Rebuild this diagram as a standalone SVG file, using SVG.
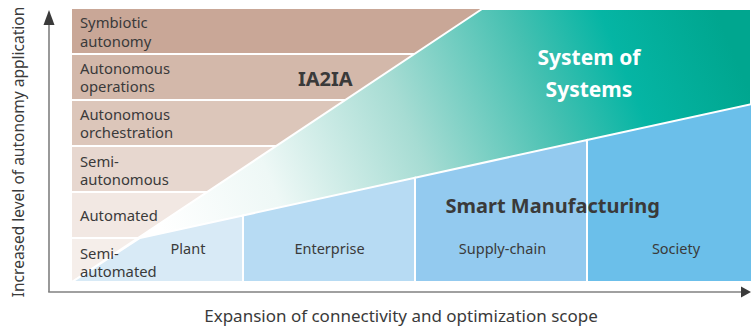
<svg xmlns="http://www.w3.org/2000/svg" width="751" height="326" viewBox="0 0 751 326">
<style>
.lbl{font-family:"Noto Sans","Liberation Sans",sans-serif;font-size:14.8px;fill:#3a3a3a}
.col{font-family:"Noto Sans","Liberation Sans",sans-serif;font-size:14.5px;fill:#3a3a3a;text-anchor:middle}
.big{font-family:"Noto Sans","Liberation Sans",sans-serif;font-weight:bold;font-size:20px;fill:#3a3a3a}
.wht{font-family:"Noto Sans","Liberation Sans",sans-serif;font-weight:bold;font-size:21px;fill:#ffffff;text-anchor:middle}
.ax{font-family:"Noto Sans","Liberation Sans",sans-serif;font-size:15.5px;fill:#3a3a3a;text-anchor:middle}
.axx{font-family:"Noto Sans","Liberation Sans",sans-serif;font-size:17px;fill:#3a3a3a;text-anchor:middle}
.axl{stroke:#808080;stroke-width:1.6;fill:none}
.blue{stroke:#ffffff;stroke-width:2}
</style>
<defs>
<linearGradient id="teal" gradientUnits="userSpaceOnUse" x1="170" y1="250" x2="720" y2="20">
<stop offset="0" stop-color="#ffffff"/>
<stop offset="0.2" stop-color="#eef8f6"/>
<stop offset="0.45" stop-color="#a6dcd3"/>
<stop offset="0.68" stop-color="#45c0b1"/>
<stop offset="0.82" stop-color="#05b5a4"/>
<stop offset="1" stop-color="#00a68f"/>
</linearGradient>
</defs>

<g id="levels">
<g id="row-symbiotic"><rect x="72" y="9" width="412" height="44" fill="#c9a797"/><text class="lbl" x="80" y="27.5">Symbiotic</text><text class="lbl" x="80" y="46.5">autonomy</text></g>
<g id="row-operations"><rect x="72" y="55" width="412" height="44" fill="#d3b8aa"/><text class="lbl" x="80" y="73.5">Autonomous</text><text class="lbl" x="80" y="91.5">operations</text></g>
<g id="row-orchestration"><rect x="72" y="101" width="412" height="44" fill="#dcc6ba"/><text class="lbl" x="80" y="119.5">Autonomous</text><text class="lbl" x="80" y="137.5">orchestration</text></g>
<g id="row-semiautonomous"><rect x="72" y="147" width="412" height="44" fill="#e7d7cf"/><text class="lbl" x="80" y="166.5">Semi-</text><text class="lbl" x="80" y="185">autonomous</text></g>
<g id="row-automated"><rect x="72" y="193" width="412" height="44" fill="#f2e8e3"/><text class="lbl" x="80" y="221">Automated</text></g>
<g id="row-semiautomated"><rect x="72" y="239" width="412" height="43" fill="#f5eeea"/></g>
</g>

<g id="system-of-systems">
<polygon points="72,282 482,9 751,9 751,282" fill="url(#teal)" stroke="#ffffff" stroke-width="2" stroke-linejoin="round"/>
<text class="wht" x="589" y="65">System of</text>
<text class="wht" x="589" y="96.5">Systems</text>
</g>

<g id="ia2ia"><text class="big" x="298" y="85.5">IA2IA</text></g>

<g id="smart-manufacturing">
<g id="col-plant"><polygon class="blue" points="72,282 140,238 243,215.5 243,282" fill="#d8eaf6"/><text class="col" x="188" y="253.5">Plant</text></g>
<g id="col-enterprise"><polygon class="blue" points="243,215.5 415,177.7 415,282 243,282" fill="#b7dbf3"/><text class="col" x="329.5" y="253.5">Enterprise</text></g>
<g id="col-supply"><polygon class="blue" points="415,177.7 587,140 587,282 415,282" fill="#93caef"/><text class="col" x="502.5" y="253.5">Supply-chain</text></g>
<g id="col-society"><polygon class="blue" points="587,140 752,104 752,282 587,282" fill="#6bbfea"/><text class="col" x="676" y="253.5">Society</text></g>
<text class="big" x="445.5" y="212.5">Smart Manufacturing</text>
</g>

<g id="semi-automated-label"><text class="lbl" x="80" y="258.5">Semi-</text><text class="lbl" x="80" y="277">automated</text></g>

<g id="connectors">
<line class="axl" x1="49" y1="292" x2="49" y2="23"/>
<polygon points="43.5,25 49,10 54.5,25" fill="#3a3a3a"/>
<line class="axl" x1="48.2" y1="292" x2="743" y2="292"/>
<polygon points="741,286.5 751,292 741,297.5" fill="#3a3a3a"/>
</g>

<g id="axis-labels">
<text class="ax" transform="translate(23.5,152) rotate(-90)">Increased level of autonomy application</text>
<text class="axx" x="401" y="321.5">Expansion of connectivity and optimization scope</text>
</g>
</svg>
